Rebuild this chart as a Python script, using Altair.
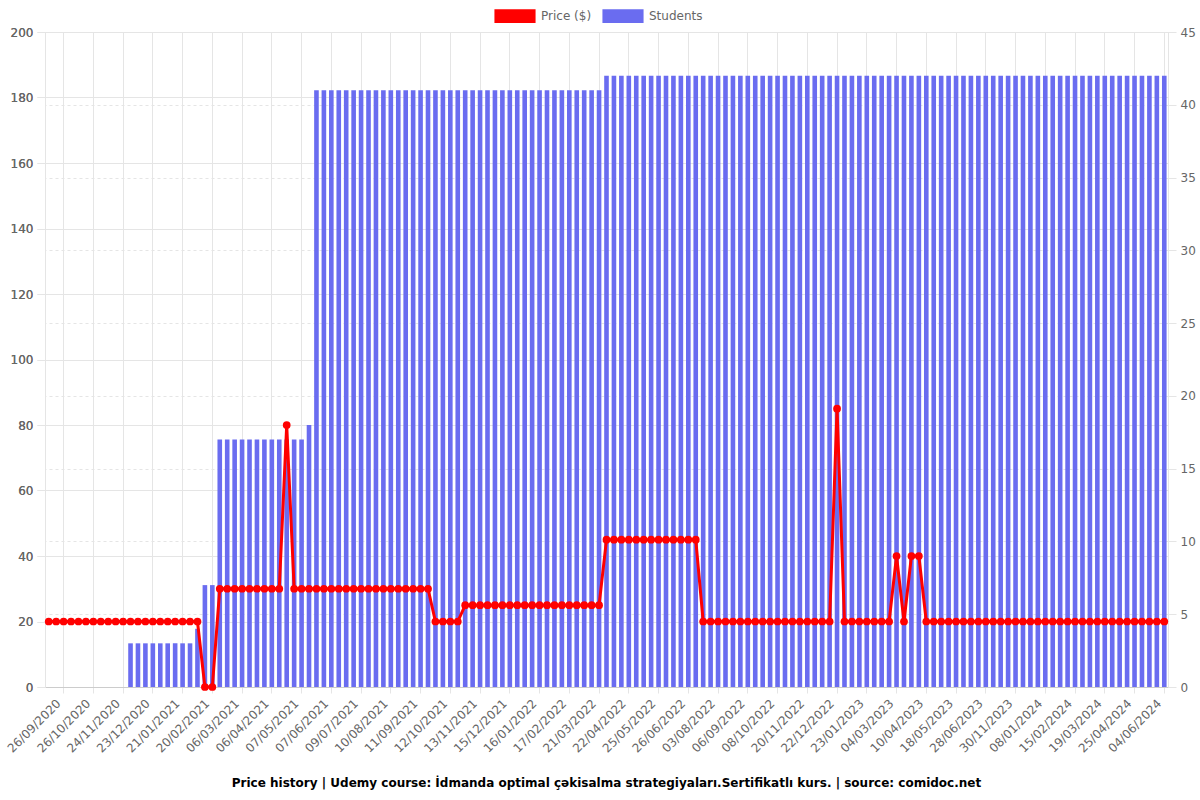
import altair as alt
import pandas as pd

dates = [
    "11/09/2020", "18/09/2020", "26/09/2020", "03/10/2020", "10/10/2020", "18/10/2020", "26/10/2020",
    "02/11/2020", "09/11/2020", "16/11/2020", "24/11/2020", "01/12/2020", "08/12/2020", "15/12/2020",
    "23/12/2020", "30/12/2020", "06/01/2021", "13/01/2021", "21/01/2021", "28/01/2021", "05/02/2021",
    "12/02/2021", "20/02/2021", "23/02/2021", "27/02/2021", "02/03/2021", "06/03/2021", "13/03/2021",
    "21/03/2021", "29/03/2021", "06/04/2021", "13/04/2021", "21/04/2021", "29/04/2021", "07/05/2021",
    "15/05/2021", "23/05/2021", "31/05/2021", "07/06/2021", "15/06/2021", "23/06/2021", "01/07/2021",
    "09/07/2021", "17/07/2021", "25/07/2021", "02/08/2021", "10/08/2021", "18/08/2021", "26/08/2021",
    "03/09/2021", "11/09/2021", "18/09/2021", "26/09/2021", "04/10/2021", "12/10/2021", "20/10/2021",
    "28/10/2021", "05/11/2021", "13/11/2021", "21/11/2021", "29/11/2021", "07/12/2021", "15/12/2021",
    "23/12/2021", "31/12/2021", "08/01/2022", "16/01/2022", "24/01/2022", "01/02/2022", "09/02/2022",
    "17/02/2022", "25/02/2022", "05/03/2022", "13/03/2022", "21/03/2022", "29/03/2022", "06/04/2022",
    "14/04/2022", "22/04/2022", "30/04/2022", "08/05/2022", "17/05/2022", "25/05/2022", "02/06/2022",
    "10/06/2022", "18/06/2022", "26/06/2022", "05/07/2022", "14/07/2022", "24/07/2022", "03/08/2022",
    "12/08/2022", "21/08/2022", "29/08/2022", "06/09/2022", "14/09/2022", "22/09/2022", "30/09/2022",
    "08/10/2022", "19/10/2022", "30/10/2022", "09/11/2022", "20/11/2022", "28/11/2022", "06/12/2022",
    "14/12/2022", "22/12/2022", "30/12/2022", "07/01/2023", "15/01/2023", "23/01/2023", "02/02/2023",
    "12/02/2023", "22/02/2023", "04/03/2023", "13/03/2023", "22/03/2023", "31/03/2023", "10/04/2023",
    "19/04/2023", "29/04/2023", "08/05/2023", "18/05/2023", "28/05/2023", "07/06/2023", "17/06/2023",
    "28/06/2023", "08/08/2023", "19/09/2023", "25/10/2023", "30/11/2023", "09/12/2023", "19/12/2023",
    "29/12/2023", "08/01/2024", "17/01/2024", "27/01/2024", "05/02/2024", "15/02/2024", "23/02/2024",
    "02/03/2024", "10/03/2024", "19/03/2024", "28/03/2024", "06/04/2024", "15/04/2024", "25/04/2024",
    "04/05/2024", "14/05/2024", "24/05/2024", "04/06/2024",
]

price = [
    20, 20, 20, 20, 20, 20, 20, 20, 20, 20, 20, 20, 20, 20, 20, 20, 20, 20, 20, 20, 20,
    0, 0,
    30, 30, 30, 30, 30, 30, 30, 30, 30,
    80,
    30, 30, 30, 30, 30, 30, 30, 30, 30, 30, 30, 30, 30, 30, 30, 30, 30, 30, 30,
    20, 20, 20, 20,
    25, 25, 25, 25, 25, 25, 25, 25, 25, 25, 25, 25, 25, 25, 25, 25, 25, 25, 25,
    45, 45, 45, 45, 45, 45, 45, 45, 45, 45, 45, 45, 45,
    20, 20, 20, 20, 20, 20, 20, 20, 20, 20, 20, 20, 20, 20, 20, 20, 20, 20,
    85,
    20, 20, 20, 20, 20, 20, 20,
    40, 20, 40, 40,
    20, 20, 20, 20, 20, 20, 20, 20, 20, 20, 20, 20, 20, 20, 20, 20, 20, 20, 20, 20,
    20, 20, 20, 20, 20, 20, 20, 20, 20, 20, 20, 20, 20,
]

students = [
    0, 0, 0, 0, 0, 0, 0, 0, 0, 0, 0,
    3, 3, 3, 3, 3, 3, 3, 3, 3,
    4,
    7, 7,
    17, 17, 17, 17, 17, 17, 17, 17, 17, 17, 17, 17,
    18,
    41, 41, 41, 41, 41, 41, 41, 41, 41, 41, 41, 41, 41, 41, 41, 41, 41, 41, 41, 41,
    41, 41, 41, 41, 41, 41, 41, 41, 41, 41, 41, 41, 41, 41, 41, 41, 41, 41, 41,
    42, 42, 42, 42, 42, 42, 42, 42, 42, 42, 42, 42, 42, 42, 42, 42, 42, 42, 42, 42,
    42, 42, 42, 42, 42, 42, 42, 42, 42, 42, 42, 42, 42, 42, 42, 42, 42, 42, 42, 42,
    42, 42, 42, 42, 42, 42, 42, 42, 42, 42, 42, 42, 42, 42, 42, 42, 42, 42, 42, 42,
    42, 42, 42, 42, 42, 42, 42, 42, 42, 42, 42, 42, 42, 42, 42, 42,
]

tick_labels = [
    "26/09/2020", "26/10/2020", "24/11/2020", "23/12/2020", "21/01/2021", "20/02/2021",
    "06/03/2021", "06/04/2021", "07/05/2021", "07/06/2021", "09/07/2021", "10/08/2021",
    "11/09/2021", "12/10/2021", "13/11/2021", "15/12/2021", "16/01/2022", "17/02/2022",
    "21/03/2022", "22/04/2022", "25/05/2022", "26/06/2022", "03/08/2022", "06/09/2022",
    "08/10/2022", "20/11/2022", "22/12/2022", "23/01/2023", "04/03/2023", "10/04/2023",
    "18/05/2023", "28/06/2023", "30/11/2023", "08/01/2024", "15/02/2024", "19/03/2024",
    "25/04/2024", "04/06/2024",
]

left_ticks = [0, 20, 40, 60, 80, 100, 120, 140, 160, 180, 200]
right_ticks = [0, 5, 10, 15, 20, 25, 30, 35, 40, 45]
series_names = ["Price ($)", "Students"]
series_colors = ["#ff0000", "#6a6cf0"]

title_text = ("Price history | Udemy course: İdmanda optimal çəkisalma  "
              "strategiyaları.Sertifikatlı kurs. | source: comidoc.net")

df = pd.DataFrame({"date": dates, "price": price, "students": students})
df["series"] = "Students"

FONT = "DejaVu Sans"
GRID = "#e5e5e5"
LABEL = "#666666"

x_enc = alt.X(
    "date:O",
    sort=None,
    scale=alt.Scale(paddingInner=0.38, paddingOuter=0.19),
    axis=alt.Axis(
        values=tick_labels,
        labelAngle=-45,
        labelAlign="right",
        labelBaseline="bottom",
        title=None,
        grid=True,
        gridColor=GRID,
        domainColor="#cccccc",
        tickColor=GRID,
        tickSize=6,
        labelPadding=13,
        labelFont=FONT,
        labelFontSize=12,
        labelColor=LABEL,
    ),
)

bars = alt.Chart(df).mark_bar().encode(
    x=x_enc,
    y=alt.Y(
        "students:Q",
        scale=alt.Scale(domain=[0, 45], nice=False),
        axis=alt.Axis(
            orient="right",
            values=right_ticks,
            title=None,
            grid=True,
            gridColor=GRID,
            gridDash=[3, 3],
            domainColor=GRID,
            tickColor=GRID,
            tickSize=8,
            labelPadding=4,
            labelFont=FONT,
            labelFontSize=12,
            labelColor=LABEL,
        ),
    ),
    color=alt.Color(
        "series:N",
        scale=alt.Scale(domain=series_names, range=series_colors),
        legend=alt.Legend(
            title=None,
            orient="none",
            direction="horizontal",
            legendX=463,
            legendY=-23,
            padding=0,
            symbolType="M-3,-1L3,-1L3,1L-3,1Z",
            symbolSize=188,
            symbolStrokeWidth=0,
            symbolOpacity=1,
            labelOffset=19,
            columnPadding=10,
            labelFont=FONT,
            labelFontSize=12,
            labelColor=LABEL,
        ),
    ),
)

price_y = alt.Y(
    "price:Q",
    scale=alt.Scale(domain=[0, 200], nice=False),
    axis=alt.Axis(
        orient="left",
        values=left_ticks,
        title=None,
        grid=True,
        gridColor=GRID,
        domainColor=GRID,
        tickColor=GRID,
        tickSize=8,
        labelPadding=4,
        labelFont=FONT,
        labelFontSize=12,
        labelColor=LABEL,
    ),
)

line = alt.Chart(df).mark_line(color="#ff0000", strokeWidth=3).encode(x=x_enc, y=price_y)
points = alt.Chart(df).mark_point(filled=True, color="#ff0000", size=60, opacity=1).encode(
    x=x_enc, y=price_y
)

chart = (
    alt.layer(bars, line, points)
    .resolve_scale(y="independent")
    .properties(
        width=1123,
        height=655,
        autosize=alt.AutoSizeParams(type="none"),
        padding={"left": 45, "top": 32, "right": 32, "bottom": 113},
        title=alt.TitleParams(
            title_text,
            orient="bottom",
            anchor="middle",
            font=FONT,
            fontSize=12,
            fontWeight="bold",
            color="#000000",
            offset=24,
        ),
        background="white",
    )
    .configure_view(stroke=None)
)

chart.save("out.html", embed_options={"renderer": "svg", "actions": False})
